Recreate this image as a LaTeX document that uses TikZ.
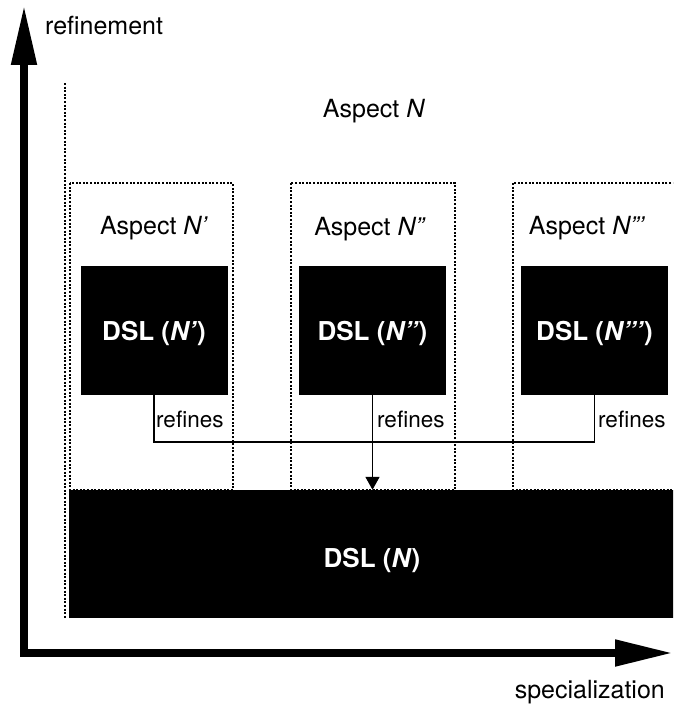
\documentclass[tikz,border=0pt]{standalone}
\usepackage{fontspec}
\setmainfont{TeX Gyre Heros}
\usetikzlibrary{arrows.meta}

\begin{document}
\begin{tikzpicture}[x=1pt, y=-1pt,
  axis/.style={line width=8pt, line join=miter,
    {Triangle[length=58pt,width=25pt]}-{Triangle[length=60pt,width=24pt]}},
  dslbox/.style={fill=black, text=white, inner sep=0pt,
    minimum width=147pt, minimum height=129pt,
    text height=20pt, text depth=0pt,
    font=\fontsize{26}{30}\selectfont\bfseries},
  frame/.style={line width=2pt, dash pattern=on 2pt off 1.6pt},
  lbl/.style={inner sep=0pt, anchor=base, font=\fontsize{25}{30}\selectfont},
  reflbl/.style={inner sep=0pt, anchor=base west, font=\fontsize{22.5}{27}\selectfont},
  link/.style={line width=1.6pt},
]
\useasboundingbox (0,0) rectangle (673,709);
\clip (0,0) rectangle (673,709);

% axes
\coordinate (origin) at (24,653);
\coordinate (xend) at (673,653);
\coordinate (yend) at (24,5);
\draw[axis] (xend) -- (origin) -- (yend);
\node[lbl, anchor=base west] (ylab) at (45,35) {refinement};
\node[lbl, anchor=base east] (xlab) at (665,698) {specialization};

% aspect N (open on the left only)
\draw[frame] (65,83) -- (65,618);
\node[lbl] (aN) at (374,117) {Aspect \textit{N}};

% sub-aspect frames
\draw[frame] (70,183) rectangle (233,490);
\draw[frame] (291,183) rectangle (455,490);
\draw[frame] (513,183) rectangle (690,490);

\node[lbl] (a1) at (154,234) {Aspect \textit{N’}};
\node[lbl] (a2) at (370,235) {Aspect \textit{N”}};
\node[lbl] (a3) at (587,234) {Aspect \textit{N”’}};

% DSLs
\node[dslbox] (d1) at (154,330.5) {DSL (\textit{N’})};
\node[dslbox] (d2) at (372.5,330.5) {DSL (\textit{N”})};
\node[dslbox] (d3) at (594.5,330.5) {DSL (\textit{N”’})};
\node[dslbox, minimum width=606pt, minimum height=128pt, text height=26pt]
  (base) at (372,554) {DSL (\textit{N})};

% refinement links
\coordinate (hub) at (372.5,442);
\draw[link] (d1.south) |- (hub);
\draw[link] (d3.south) |- (hub);
\draw[link, -{Triangle[length=13pt,width=14pt]}] (d2.south) -- (d2.south |- base.north);
\node[reflbl] (r1) at (156,427) {refines};
\node[reflbl] (r2) at (377,427) {refines};
\node[reflbl] (r3) at (598,427) {refines};
\end{tikzpicture}
\end{document}
